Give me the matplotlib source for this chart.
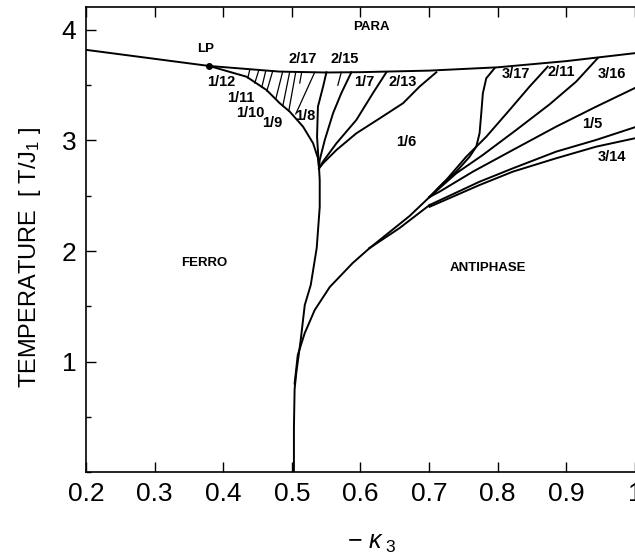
import matplotlib
matplotlib.use("Agg")
import matplotlib.pyplot as plt
from matplotlib.ticker import MultipleLocator

plt.rcParams['font.family'] = ['Liberation Sans', 'DejaVu Sans']
plt.rcParams['mathtext.fontset'] = 'custom'
plt.rcParams['mathtext.rm'] = 'Liberation Sans'
plt.rcParams['mathtext.it'] = 'Liberation Sans:italic'

# phase boundaries: x = -kappa_3, T = temperature / J1
para_x = [0.20, 0.3795, 0.4824, 0.55, 0.60, 0.70, 0.80, 0.90, 1.00]
para_T = [3.82, 3.674, 3.623, 3.615, 3.618, 3.632, 3.662, 3.718, 3.79]

lp_x, lp_T = 0.3795, 3.674

ferro_x = [0.3795, 0.4339, 0.463, 0.4824, 0.4969, 0.5163, 0.5309, 0.5381, 0.5396,
           0.5406, 0.5406, 0.5362, 0.5275, 0.5188, 0.5129, 0.5065, 0.504, 0.503, 0.503]
ferro_T = [3.674, 3.577, 3.457, 3.337, 3.261, 3.125, 2.975, 2.839, 2.748,
           2.643, 2.398, 2.027, 1.692, 1.511, 1.195, 0.90, 0.75, 0.40, 0.0]

# antiphase boundary from the ferro line up to where the strands split
anti_x = [0.504, 0.5086, 0.5188, 0.5333, 0.5552, 0.5886, 0.6134]
anti_T = [0.80, 1.059, 1.258, 1.466, 1.674, 1.891, 2.027]

# upper strand (to the fan) and lower strand
upper_x = [0.6134, 0.6425, 0.6716, 0.7007]
upper_T = [2.027, 2.172, 2.317, 2.489]
lower_x = [0.6134, 0.657, 0.7007]
lower_T = [2.027, 2.208, 2.416]

# fan lines on the right
s317_x = [0.7007, 0.7201, 0.7396, 0.759, 0.7687, 0.7735, 0.776, 0.7783, 0.7833, 0.7953]
s317_T = [2.489, 2.613, 2.718, 2.853, 2.944, 3.065, 3.246, 3.427, 3.563, 3.653]
s211_x = [0.7007, 0.725, 0.7541, 0.7833, 0.8172, 0.8463, 0.8729]
s211_T = [2.489, 2.643, 2.853, 3.034, 3.276, 3.487, 3.668]
s316_x = [0.7007, 0.7396, 0.7783, 0.8269, 0.8754, 0.9142, 0.9457]
s316_T = [2.489, 2.703, 2.869, 3.095, 3.326, 3.532, 3.745]
s15u_x = [0.7007, 0.7153, 0.7638, 0.822, 0.8851, 0.9434, 1.00]
s15u_T = [2.489, 2.537, 2.718, 2.914, 3.125, 3.306, 3.475]
s15l_x = [0.7007, 0.7735, 0.822, 0.8851, 0.9434, 1.00]
s15l_T = [2.416, 2.627, 2.748, 2.899, 3.005, 3.12]
s314_x = [0.7007, 0.7735, 0.822, 0.8851, 0.9434, 1.00]
s314_T = [2.40, 2.597, 2.718, 2.839, 2.944, 3.02]

# lines leaving the junction near (0.54, 2.75)
s16_x = [0.5396, 0.5455, 0.565, 0.594, 0.628, 0.662, 0.686, 0.7105]
s16_T = [2.748, 2.794, 2.914, 3.065, 3.20, 3.337, 3.487, 3.617]
s213_x = [0.5396, 0.5455, 0.565, 0.594, 0.618, 0.6377]
s213_T = [2.748, 2.81, 2.975, 3.186, 3.427, 3.617]
s17_x = [0.5396, 0.5406, 0.548, 0.56, 0.572, 0.5867]
s17_T = [2.748, 2.824, 3.005, 3.246, 3.427, 3.617]
s18_x = [0.5396, 0.5367, 0.538, 0.5455, 0.5504]
s18_T = [2.748, 3.034, 3.306, 3.487, 3.617]

# thin boundaries between LP and the 1/8 phase: (x_top, T_top, x_bottom, T_bottom)
thin_top_x = [0.4387, 0.4518, 0.462, 0.4722, 0.4867, 0.4969, 0.5057, 0.5144, 0.5333, 0.572]
thin_top_T = [3.640, 3.635, 3.632, 3.630, 3.625, 3.622, 3.620, 3.620, 3.617, 3.617]
thin_bot_x = [0.4358, 0.446, 0.4562, 0.4635, 0.4766, 0.4868, 0.4955, 0.5115, 0.5057, 0.567]
thin_bot_T = [3.566, 3.52, 3.48, 3.448, 3.376, 3.312, 3.267, 3.52, 3.24, 3.50]

labels = ["PARA", "LP", "FERRO", "ANTIPHASE", "1/12", "1/11", "1/10", "1/9", "1/8",
          "2/17", "2/15", "1/7", "2/13", "1/6", "3/17", "2/11", "3/16", "1/5", "3/14"]
label_x = [0.616, 0.375, 0.373, 0.785, 0.3975, 0.4256, 0.44, 0.4707, 0.519,
           0.516, 0.577, 0.606, 0.661, 0.666, 0.826, 0.893, 0.967, 0.938, 0.967]
label_T = [4.03, 3.83, 1.89, 1.85, 3.53, 3.385, 3.253, 3.158, 3.22,
           3.74, 3.74, 3.53, 3.53, 2.99, 3.60, 3.62, 3.60, 3.15, 2.846]

xticks = [0.2, 0.3, 0.4, 0.5, 0.6, 0.7, 0.8, 0.9, 1.0]
xtick_labels = ["0.2", "0.3", "0.4", "0.5", "0.6", "0.7", "0.8", "0.9", "1"]
yticks = [1, 2, 3, 4]

fig = plt.figure(figsize=(6.35, 5.6), dpi=100)
ax = fig.add_axes([0.1354, 0.157, 1.0 - 0.1354, 0.987 - 0.157])

lw = 1.4
ax.plot(para_x, para_T, color='black', lw=lw)
ax.plot(ferro_x, ferro_T, color='black', lw=lw)
ax.plot(anti_x, anti_T, color='black', lw=lw)
ax.plot(upper_x, upper_T, color='black', lw=lw)
ax.plot(lower_x, lower_T, color='black', lw=lw)
for xs, ts in [(s317_x, s317_T), (s211_x, s211_T), (s316_x, s316_T),
               (s15u_x, s15u_T), (s15l_x, s15l_T), (s314_x, s314_T),
               (s16_x, s16_T), (s213_x, s213_T), (s17_x, s17_T), (s18_x, s18_T)]:
    ax.plot(xs, ts, color='black', lw=lw)
for i in range(len(thin_top_x)):
    ax.plot([thin_top_x[i], thin_bot_x[i]], [thin_top_T[i], thin_bot_T[i]],
            color='black', lw=0.9)
ax.plot([lp_x], [lp_T], 'o', color='black', ms=4)

for txt, x, t in zip(labels, label_x, label_T):
    size = 9.5 if txt.isalpha() else 10.5
    ax.text(x, t, txt, ha='center', va='center', fontsize=size, fontweight='bold')

ax.set_xlim(0.2, 1.0)
ax.set_ylim(0, 4.205)
ax.set_xticks(xticks)
ax.set_xticklabels(xtick_labels)
ax.set_yticks(yticks)
ax.yaxis.set_minor_locator(MultipleLocator(0.5))
ax.tick_params(which='major', direction='in', length=7, width=1, labelsize=19,
               pad=7, top=True, right=False)
ax.tick_params(which='minor', direction='in', length=3.5, width=1, right=False)
ax.spines['right'].set_visible(False)
for s in ['left', 'bottom', 'top']:
    ax.spines[s].set_linewidth(1.2)

fig.text(30 / 635, 0.541, 'TEMPERATURE  [ T/J$_{1}$ ]', rotation=90,
         ha='center', va='center', fontsize=17)
fig.text(372 / 635, 0.03, r'$-\ \kappa_{\ 3}$', ha='center', va='center', fontsize=18)

fig.savefig('out.png', dpi=100)
